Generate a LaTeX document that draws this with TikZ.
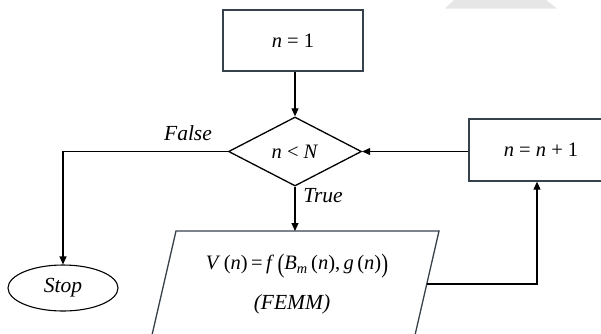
\documentclass[tikz,border=0pt]{standalone}
\usepackage{fontspec}
\setmainfont{Liberation Serif}
\usepackage{graphicx}
\usetikzlibrary{shapes.geometric,arrows.meta}
\definecolor{edgec}{RGB}{55,65,75}
\definecolor{wm}{RGB}{230,230,230}
\newcommand\vi[1]{\textit{#1}}
\newcommand\bigp[1]{\raisebox{-0.12em}{\scalebox{1}[1.3]{#1}}}
\begin{document}
\begin{tikzpicture}[x=1pt,y=-1pt,
  every node/.style={font=\fontsize{20.5}{24}\selectfont},
  box/.style={draw=edgec,line width=1.3pt,rectangle,inner sep=0pt},
  dec/.style={draw=black,line width=1.3pt,diamond,inner sep=0pt,aspect=1.93,minimum width=133pt,minimum height=69pt},
  term/.style={draw=black,line width=1.1pt,ellipse,minimum width=110pt,minimum height=46pt,inner sep=0pt},
  conn/.style={line width=1.1pt,-{Triangle[length=8pt,width=7pt]}},
  lbl/.style={font=\fontsize{21.5}{25}\selectfont\itshape}]
\useasboundingbox (0,0) rectangle (601,333);
\fill[wm] (445,8.5) -- (557,8.5) -- (545,-1) -- (455,-1) -- cycle;
% nodes
\node[box,minimum width=140pt,minimum height=61pt] (init) at (293,40.5) {\vi{n} = 1};
\node[dec] (cond) at (295,151.5) {\vi{n} < \vi{N}};
\node[box,minimum width=144pt,minimum height=62pt] (inc) at (541,150) {\vi{n} = \vi{n} + 1};
\node[term,lbl] (stop) at (63,288) {Stop};
\draw[box] (176,231) coordinate (pTL) -- (439,231) coordinate (pTR) -- (412.7,345) -- (149.7,345) -- cycle;
\node (calc) at (297,266) {\vi{V}\,(\vi{n})\,=\,\vi{f}\,\bigp{(}\vi{B}\textsubscript{\vi{m}}\,(\vi{n}),\,\vi{g}\,(\vi{n})\bigp{)}};
\node[lbl] (femm) at (292,304) {(FEMM)};
\coordinate (pout) at (426.5,284);
% labels
\node[lbl] (lf) at (188,133) {False};
\node[lbl] (lt) at (323,196) {True};
% connectors
\draw[conn] (init.south -| cond.north) -- (cond.north);
\draw[conn] (cond.south) -- (cond.south |- pTL);
\draw[conn] (inc.west |- cond.east) -- (cond.east);
\draw[conn] (pout) -| ([xshift=-4pt]inc.south);
\draw[conn] (cond.west) -| (stop.north);
\end{tikzpicture}
\end{document}
